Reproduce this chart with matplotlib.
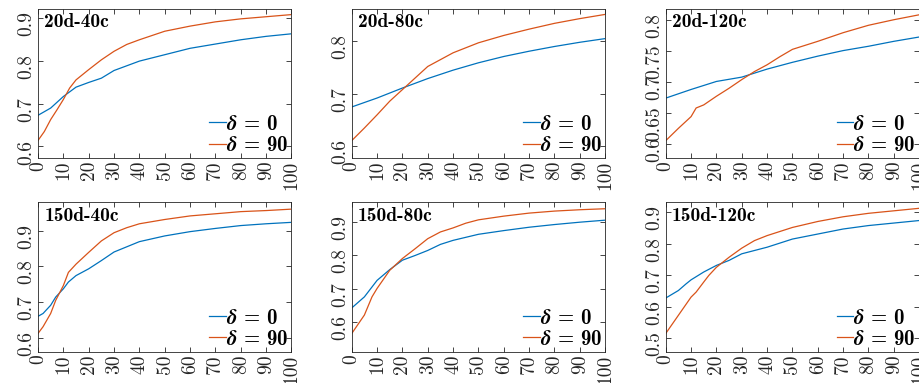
import matplotlib
matplotlib.use('Agg')
from matplotlib import pyplot as plt

plt.rcParams['font.family'] = 'cmr10'
plt.rcParams['mathtext.fontset'] = 'cm'
plt.rcParams['axes.formatter.use_mathtext'] = True

# panel titles
titles = ['20d-40c', '20d-80c', '20d-120c', '150d-40c', '150d-80c', '150d-120c']
series_labels = [r'$\boldsymbol{\delta}$ = 0', r'$\boldsymbol{\delta}$ = 90']
x_ticks = [0, 10, 20, 30, 40, 50, 60, 70, 80, 90, 100]

# 20d-40c
d20_c40_x0 = [0, 5, 10, 15, 20, 25, 30, 40, 50, 60, 70, 80, 90, 100]
d20_c40_y0 = [0.673, 0.690, 0.717, 0.739, 0.750, 0.760, 0.778, 0.800, 0.815, 0.830, 0.840, 0.850, 0.858, 0.864]
d20_c40_x90 = [0, 2.5, 5, 7.5, 10, 12.5, 15, 20, 25, 30, 35, 40, 50, 60, 70, 80, 90, 100]
d20_c40_y90 = [0.614, 0.635, 0.663, 0.686, 0.710, 0.737, 0.756, 0.780, 0.803, 0.823, 0.839, 0.850, 0.870,
               0.882, 0.892, 0.899, 0.904, 0.909]

# 20d-80c
d20_c80_x0 = [0, 10, 20, 30, 40, 50, 60, 70, 80, 90, 100]
d20_c80_y0 = [0.675, 0.692, 0.711, 0.729, 0.745, 0.759, 0.771, 0.781, 0.790, 0.798, 0.805]
d20_c80_x90 = [0, 5, 10, 15, 20, 25, 30, 35, 40, 50, 60, 70, 80, 90, 100]
d20_c80_y90 = [0.611, 0.635, 0.660, 0.686, 0.708, 0.730, 0.752, 0.765, 0.778, 0.797, 0.811, 0.823, 0.834,
               0.843, 0.851]

# 20d-120c
d20_c120_x0 = [0, 10, 20, 30, 40, 50, 60, 70, 80, 90, 100]
d20_c120_y0 = [0.674, 0.688, 0.701, 0.708, 0.721, 0.732, 0.742, 0.751, 0.758, 0.766, 0.773]
d20_c120_x90 = [0, 5, 10, 12, 15, 20, 25, 30, 35, 40, 45, 50, 60, 70, 80, 90, 100]
d20_c120_y90 = [0.605, 0.625, 0.644, 0.658, 0.663, 0.677, 0.690, 0.704, 0.717, 0.728, 0.741, 0.753, 0.766,
                0.780, 0.792, 0.801, 0.809]

# 150d-40c
d150_c40_x0 = [0, 2, 5, 7, 10, 12, 15, 20, 25, 30, 40, 50, 60, 70, 80, 90, 100]
d150_c40_y0 = [0.660, 0.668, 0.691, 0.714, 0.737, 0.756, 0.774, 0.793, 0.816, 0.840, 0.869, 0.885, 0.897,
               0.906, 0.914, 0.919, 0.923]
d150_c40_x90 = [0, 2, 5, 7, 10, 12, 15, 20, 25, 30, 35, 40, 50, 60, 70, 80, 90, 100]
d150_c40_y90 = [0.612, 0.631, 0.668, 0.705, 0.746, 0.783, 0.806, 0.839, 0.871, 0.894, 0.908, 0.919, 0.931,
                0.941, 0.947, 0.953, 0.956, 0.960]

# 150d-80c
d150_c80_x0 = [0, 5, 10, 15, 20, 25, 30, 35, 40, 50, 60, 70, 80, 90, 100]
d150_c80_y0 = [0.643, 0.676, 0.725, 0.757, 0.785, 0.799, 0.814, 0.832, 0.844, 0.862, 0.873, 0.883, 0.891,
               0.898, 0.904]
d150_c80_x90 = [0, 5, 8, 10, 15, 20, 25, 30, 35, 40, 45, 50, 60, 70, 80, 90, 100]
d150_c80_y90 = [0.567, 0.622, 0.676, 0.701, 0.755, 0.790, 0.819, 0.849, 0.869, 0.881, 0.895, 0.905, 0.916,
                0.925, 0.931, 0.935, 0.938]

# 150d-120c
d150_c120_x0 = [0, 5, 8, 10, 15, 20, 25, 30, 40, 45, 50, 60, 70, 80, 90, 100]
d150_c120_y0 = [0.627, 0.651, 0.672, 0.685, 0.710, 0.731, 0.747, 0.768, 0.789, 0.802, 0.815, 0.831, 0.847,
                0.858, 0.866, 0.874]
d150_c120_x90 = [0, 5, 10, 12, 15, 17, 20, 25, 30, 35, 40, 50, 60, 70, 80, 90, 100]
d150_c120_y90 = [0.514, 0.572, 0.630, 0.646, 0.678, 0.699, 0.725, 0.757, 0.786, 0.810, 0.826, 0.852, 0.871,
                 0.886, 0.897, 0.905, 0.913]

panel_x0 = [d20_c40_x0, d20_c80_x0, d20_c120_x0, d150_c40_x0, d150_c80_x0, d150_c120_x0]
panel_y0 = [d20_c40_y0, d20_c80_y0, d20_c120_y0, d150_c40_y0, d150_c80_y0, d150_c120_y0]
panel_x90 = [d20_c40_x90, d20_c80_x90, d20_c120_x90, d150_c40_x90, d150_c80_x90, d150_c120_x90]
panel_y90 = [d20_c40_y90, d20_c80_y90, d20_c120_y90, d150_c40_y90, d150_c80_y90, d150_c120_y90]

y_ticks = [[0.6, 0.7, 0.8, 0.9], [0.6, 0.7, 0.8], [0.6, 0.65, 0.7, 0.75, 0.8],
           [0.6, 0.7, 0.8, 0.9], [0.6, 0.7, 0.8, 0.9], [0.5, 0.6, 0.7, 0.8, 0.9]]
y_tick_labels = [['0.6', '0.7', '0.8', '0.9'], ['0.6', '0.7', '0.8'], ['0.6', '0.65', '0.7', '0.75', '0.8'],
                 ['0.6', '0.7', '0.8', '0.9'], ['0.6', '0.7', '0.8', '0.9'], ['0.5', '0.6', '0.7', '0.8', '0.9']]
y_lims = [(0.573, 0.923), (0.578, 0.862), (0.577, 0.819), (0.561, 0.979), (0.513, 0.957), (0.456, 0.932)]

blue, orange = '#0072BD', '#D95319'
axis_grey = '#262626'

fig = plt.figure(figsize=(9.2, 3.83), dpi=100)
lefts = [0.0413, 0.3823, 0.7236]
bottoms = [0.5875, 0.0817]
w, h = 0.2755, 0.390

for i in range(6):
    ax = fig.add_axes([lefts[i % 3], bottoms[i // 3], w, h])
    ax.plot(panel_x0[i], panel_y0[i], color=blue, lw=0.9, label=series_labels[0])
    ax.plot(panel_x90[i], panel_y90[i], color=orange, lw=0.9, label=series_labels[1])
    ax.set_xlim(0, 100)
    ax.set_ylim(*y_lims[i])
    ax.set_xticks(x_ticks)
    ax.set_xticklabels([str(t) for t in x_ticks])
    ax.set_yticks(y_ticks[i])
    ax.set_yticklabels(y_tick_labels[i])
    ax.tick_params(direction='in', top=True, right=True, length=3.5, width=0.6,
                   labelsize=14, colors=axis_grey, pad=2)
    ax.tick_params(axis='x', labelrotation=90)
    ax.tick_params(axis='y', labelrotation=90)
    for s in ax.spines.values():
        s.set_color(axis_grey)
        s.set_linewidth(0.6)
    ax.text(0.025, 0.97, titles[i], transform=ax.transAxes, ha='left', va='top',
            fontsize=14, fontfamily='cmb10', color='black')
    ax.legend(loc='lower right', frameon=False, prop={'family': 'cmb10', 'size': 15},
              handlelength=0.8, handletextpad=0.0, labelspacing=0.1, borderaxespad=0.05, borderpad=0.1)

plt.savefig('out.png', dpi=100)
plt.close()
